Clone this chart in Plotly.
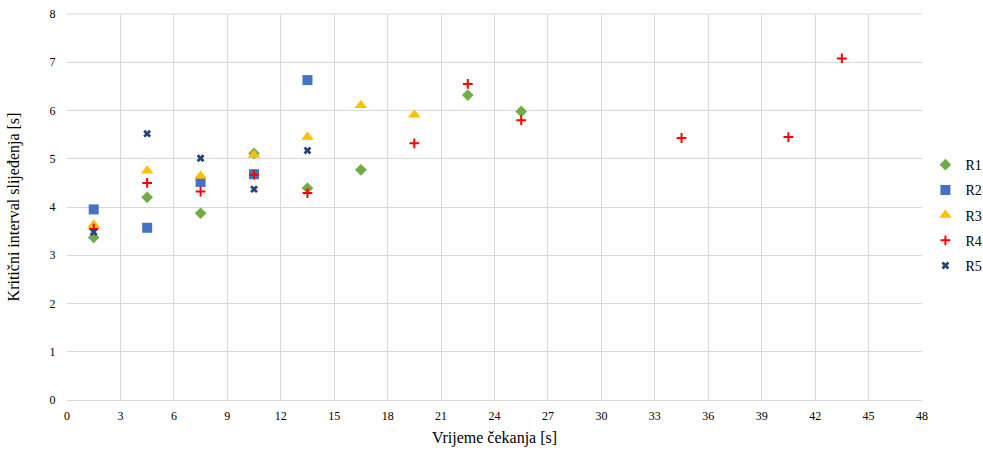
import plotly.graph_objects as go

x_r1 = [1.5, 4.5, 7.5, 10.5, 13.5, 16.5, 22.5, 25.5]
y_r1 = [3.37, 4.2, 3.87, 5.11, 4.39, 4.77, 6.32, 5.98]

x_r2 = [1.5, 4.5, 7.5, 10.5, 13.5]
y_r2 = [3.95, 3.57, 4.52, 4.68, 6.63]

x_r3 = [1.5, 4.5, 7.5, 10.5, 13.5, 16.5, 19.5]
y_r3 = [3.63, 4.75, 4.64, 5.08, 5.45, 6.11, 5.91]

x_r4 = [1.5, 4.5, 7.5, 10.5, 13.5, 19.5, 22.5, 25.5, 34.5, 40.5, 43.5]
y_r4 = [3.55, 4.5, 4.32, 4.67, 4.29, 5.32, 6.55, 5.8, 5.43, 5.45, 7.08]

x_r5 = [1.5, 4.5, 7.5, 10.5, 13.5]
y_r5 = [3.48, 5.52, 5.01, 4.37, 5.17]

x_ticks = list(range(0, 49, 3))
y_ticks = list(range(0, 9))

font_family = "Times New Roman"

fig = go.Figure()
fig.add_trace(go.Scatter(x=x_r1, y=y_r1, mode="markers", name="R1", legendgroup="g1",
                         marker=dict(symbol="diamond", size=9, color="#70AD47")))
fig.add_trace(go.Scatter(x=x_r2, y=y_r2, mode="markers", name="R2", legendgroup="g2",
                         marker=dict(symbol="square", size=10, color="#4472C4")))
fig.add_trace(go.Scatter(x=x_r3, y=y_r3, mode="markers", name="R3", legendgroup="g3",
                         marker=dict(symbol="triangle-up", size=11, color="#FFC000")))
fig.add_trace(go.Scatter(x=x_r4, y=y_r4, mode="markers", name="R4", legendgroup="g4",
                         marker=dict(symbol="cross-thin-open", size=7,
                                     line=dict(color="#FF0000", width=2), color="#FF0000")))
fig.add_trace(go.Scatter(x=x_r5, y=y_r5, mode="markers", name="R5", legendgroup="g5",
                         marker=dict(symbol="x", size=7, color="#264478",
                                     line=dict(width=0))))

fig.update_layout(
    width=983, height=452,
    margin=dict(l=67, r=61, t=14, b=52, autoexpand=False),
    paper_bgcolor="white", plot_bgcolor="white",
    font=dict(family=font_family, size=12, color="#000000"),
    showlegend=True,
    legend=dict(x=1.004, xref="paper", xanchor="left", y=0.479, yanchor="middle",
                font=dict(family=font_family, size=14, color="#000000"),
                itemwidth=30, tracegroupgap=4, bgcolor="rgba(0,0,0,0)"),
    xaxis=dict(range=[0, 48], tickvals=x_ticks, showgrid=True, gridcolor="#D9D9D9",
               gridwidth=1, zeroline=False, showline=True, linecolor="#D9D9D9",
               ticks="outside", ticklen=5, tickcolor="rgba(0,0,0,0)",
               automargin=False, ticklabeloverflow="allow",
               tickfont=dict(family=font_family, size=12),
               title=dict(text="Vrijeme čekanja [s]", font=dict(family=font_family, size=16),
                          standoff=9)),
    yaxis=dict(range=[0, 8], tickvals=y_ticks, showgrid=True, gridcolor="#D9D9D9",
               gridwidth=1, zeroline=False, showline=False,
               ticks="outside", ticklen=8, tickcolor="rgba(0,0,0,0)",
               automargin=False, ticklabeloverflow="allow",
               tickfont=dict(family=font_family, size=12),
               title=dict(text="Kritični interval slijeđenja [s]",
                          font=dict(family=font_family, size=16), standoff=25)),
    shapes=[dict(type="line", xref="paper", yref="paper", x0=0, x1=1, y0=1, y1=1,
                 line=dict(color="#D9D9D9", width=1))],
)

fig.write_html("out.html",
               config={"displayModeBar": False},
               post_script="document.body.style.margin='0';document.body.style.overflow='hidden';")
